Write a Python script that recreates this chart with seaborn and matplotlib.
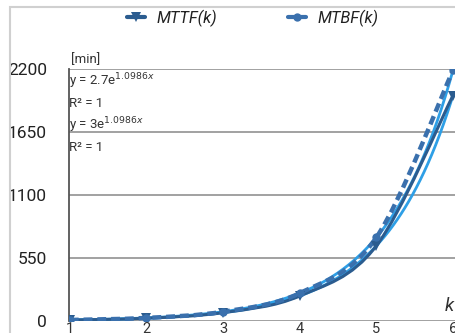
import numpy as np
import pandas as pd
import matplotlib
matplotlib.use("Agg")
import matplotlib.pyplot as plt
from matplotlib.patches import Rectangle, PathPatch
from matplotlib.path import Path
import seaborn as sns

k = [1, 2, 3, 4, 5, 6]
mttf = [8.1, 24.3, 72.9, 218.7, 656.1, 1968.3]
mtbf = [9, 27, 81, 243, 729, 2187]
yticks = [0, 550, 1100, 1650, 2200]
xticks = [1, 2, 3, 4, 5, 6]

sns.set_theme(style="white")
plt.rcParams['font.family'] = ['Roboto', 'DejaVu Sans']

fig = plt.figure(figsize=(4.56, 3.33), dpi=100)
ax = fig.add_axes([69/456, 12/333, (456-69)/456, (321-69)/333])

c_ttf = "#2b5c8f"
c_tbf = "#3a70ad"
c_trend = "#2e9fe6"

df = pd.DataFrame({"k": k, "MTTF": mttf, "MTBF": mtbf})


def smooth_path(xs, ys):
    """Excel-style smoothed line: cubic Bezier through the data points."""
    p = np.column_stack([xs, ys]).astype(float)
    n = len(p)
    verts = [p[0]]
    codes = [Path.MOVETO]
    for i in range(n - 1):
        pm = p[i - 1] if i > 0 else p[i]
        pp = p[i + 2] if i + 2 < n else p[i + 1]
        c1 = p[i] + (p[i + 1] - pm) / 6.0
        c2 = p[i + 1] - (pp - p[i]) / 6.0
        verts += [c1, c2, p[i + 1]]
        codes += [Path.CURVE4] * 3
    return Path(verts, codes)


# trendlines (exponential fit of the data)
kk = np.linspace(1, 6, 200)
for col in ["MTTF", "MTBF"]:
    b, a = np.polyfit(df["k"], np.log(df[col]), 1)
    sns.lineplot(x=kk, y=np.exp(a) * np.exp(b * kk), ax=ax, color=c_trend,
                 lw=2.0, zorder=2)

ax.add_patch(PathPatch(smooth_path(df["k"], df["MTTF"]), fill=False,
                       edgecolor=c_ttf, lw=2.2, zorder=3))
ax.add_patch(PathPatch(smooth_path(df["k"], df["MTBF"]), fill=False,
                       edgecolor=c_tbf, lw=3.2, linestyle=(0, (2, 1.1)),
                       zorder=4))

sns.lineplot(data=df, x="k", y="MTTF", ax=ax, color=c_ttf, lw=0,
             linestyle="none", marker="v", markersize=6.5, markeredgewidth=0,
             zorder=5, label="MTTF(k)")
sns.lineplot(data=df, x="k", y="MTBF", ax=ax, color=c_tbf, lw=0,
             linestyle="none", marker="o", markersize=6, markeredgewidth=0,
             zorder=6, label="MTBF(k)")

ax.set_xlim(0.99, 6.04)
ax.set_ylim(0, 2200)
ax.set_yticks(yticks)
ax.set_yticklabels([str(v) for v in yticks], fontsize=12.5)
ax.set_xticks(xticks)
ax.set_xticklabels([str(v) for v in xticks], fontsize=10.5, color="#333333")
ax.tick_params(axis="y", length=0, pad=16, colors="#222222")
ax.tick_params(axis="x", length=0, pad=1)
ax.set_xlabel("")
ax.set_ylabel("")
ax.yaxis.grid(True, color="#9a9a9a", lw=1.3)
ax.set_axisbelow(True)
for s in ["top", "right", "bottom"]:
    ax.spines[s].set_visible(False)
ax.spines["left"].set_color("#555555")
ax.spines["left"].set_linewidth(1.3)

ax.text(0.005, 1.012, "[min]", transform=ax.transAxes, fontsize=9.5,
        color="#333333", ha="left", va="bottom")
ax.text(0.0, 0.952, r"y = 2.7e$^{1.0986x}$", transform=ax.transAxes,
        fontsize=9.5, color="#333333", va="center")
ax.text(0.0, 0.865, "R² = 1", transform=ax.transAxes, fontsize=9.5,
        color="#333333", va="center")
ax.text(0.0, 0.775, r"y = 3e$^{1.0986x}$", transform=ax.transAxes,
        fontsize=9.5, color="#333333", va="center")
ax.text(0.0, 0.688, "R² = 1", transform=ax.transAxes, fontsize=9.5,
        color="#333333", va="center")
ax.text(0.995, 0.06, "k", transform=ax.transAxes, fontsize=13.5,
        style="italic", color="#333333", ha="right", va="center")

leg = ax.legend(loc="center", bbox_to_anchor=(253/456, 1 - 18/333),
                bbox_transform=fig.transFigure, ncol=2, frameon=False,
                handlelength=1.1, columnspacing=4.3, handletextpad=0.7,
                prop={"size": 11.8, "style": "italic"})
for line in leg.get_lines():
    line.set_linestyle("-")
    line.set_linewidth(3)
for t in leg.get_texts():
    t.set_color("#222222")

fig.add_artist(Rectangle((10/456, -0.1), 1.2, 1 - 7/333 + 0.1,
                         transform=fig.transFigure, fill=False,
                         edgecolor="#d0d0d0", lw=1.5))

fig.savefig("out.png", dpi=100)
